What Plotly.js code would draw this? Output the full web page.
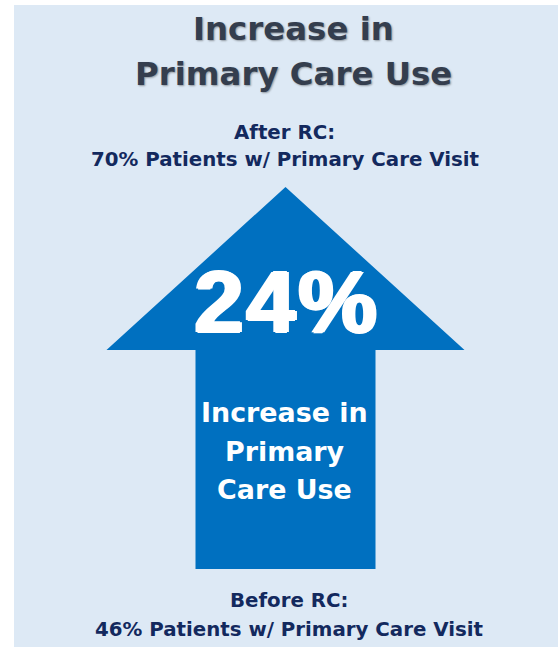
<!DOCTYPE html>
<html>
<head>
<meta charset="utf-8">
<script src="https://cdn.plot.ly/plotly-3.0.1.min.js"></script>
<style>
  html, body { margin: 0; padding: 0; background: #ffffff; }
  #chart { width: 558px; height: 647px; }
  .annotation[data-index="4"] text { letter-spacing: 3px; }
</style>
</head>
<body>
<div id="chart"></div>
<script>
// ---- data ----
const titleLines = ["Increase in", "Primary Care Use"];
const stageLabels = ["After RC:", "Before RC:"];
const patientPct = [70, 46];
const visitLabel = "Patients w/ Primary Care Visit";
const increaseLines = ["Increase in", "Primary", "Care Use"];
const increasePct = patientPct[0] - patientPct[1];

// ---- styling ----
const panelColor = "#dde9f5";
const arrowColor = "#0070c0";
const titleColor = "#343e4e";
const navy = "#13295e";

// arrow geometry in pixel-like axis units
const arrowPath = "M 285.5 187 L 464.5 350 L 375.5 350 L 375.5 569 L 195.5 569 L 195.5 350 L 106.5 350 Z";

const annotations = [];
function addText(text, x, y, size, color, family, weight, shadow) {
  annotations.push({
    xref: "x", yref: "y", x: x, y: y,
    text: text, showarrow: false,
    xanchor: "center", yanchor: "middle",
    font: { family: family, size: size, color: color, weight: weight, shadow: shadow || "none" }
  });
}
const dv = "DejaVu Sans";
const tShadow = "1px 1px 2px rgba(0,0,0,0.35)";
addText(titleLines[0], 293, 29, 32.4, titleColor, dv, 700, tShadow);
addText(titleLines[1], 293, 73.5, 32.4, titleColor, dv, 700, tShadow);

addText(stageLabels[0], 284, 132.5, 19.8, navy, dv, 700);
addText(patientPct[0] + "% " + visitLabel, 285, 159.2, 19.8, navy, dv, 700);

addText(increasePct + "%", 286.5, 301.5, 88, "#ffffff", "Liberation Sans", 700,
  "2px 0 0 #ffffff, -2px 0 0 #ffffff, 0 1px 0 #ffffff, 0 -1px 0 #ffffff");

addText(increaseLines[0], 284.7, 412.5, 26.9, "#ffffff", dv, 700);
addText(increaseLines[1], 284.7, 451.7, 26.9, "#ffffff", dv, 700);
addText(increaseLines[2], 284.7, 489.5, 26.9, "#ffffff", dv, 700);

addText(stageLabels[1], 289, 600.8, 19.8, navy, dv, 700);
addText(patientPct[1] + "% " + visitLabel, 288.5, 629.5, 19.8, navy, dv, 700);

const layout = {
  width: 558, height: 647,
  margin: { l: 0, r: 0, t: 0, b: 0, pad: 0 },
  paper_bgcolor: "#ffffff",
  plot_bgcolor: "#ffffff",
  showlegend: false,
  xaxis: { range: [0, 558], visible: false, fixedrange: true },
  yaxis: { range: [647, 0], visible: false, fixedrange: true },
  shapes: [
    { type: "rect", xref: "x", yref: "y", x0: 14, x1: 558, y0: 5, y1: 647,
      fillcolor: panelColor, line: { width: 0 }, layer: "below" },
    { type: "path", xref: "x", yref: "y", path: arrowPath,
      fillcolor: arrowColor, line: { width: 0 }, layer: "below" }
  ],
  annotations: annotations
};

Plotly.newPlot("chart", [{ x: [], y: [], type: "scatter", mode: "markers", hoverinfo: "skip" }], layout,
  { displayModeBar: false, staticPlot: true });
</script>
</body>
</html>
